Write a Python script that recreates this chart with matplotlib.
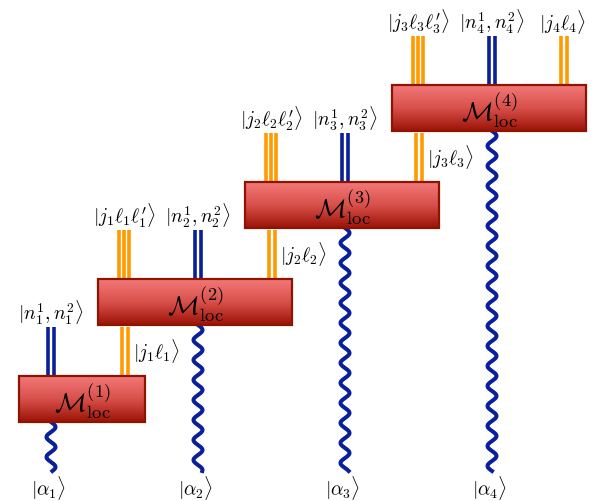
import numpy as np
import matplotlib
matplotlib.use('Agg')
import matplotlib.pyplot as plt
from matplotlib.colors import LinearSegmentedColormap
from matplotlib.patches import Rectangle

plt.rcParams['mathtext.fontset'] = 'cm'

##ラベル
box_labels = [r'$\mathcal{M}_{\rm loc}^{(1)}$', r'$\mathcal{M}_{\rm loc}^{(2)}$',
              r'$\mathcal{M}_{\rm loc}^{(3)}$', r'$\mathcal{M}_{\rm loc}^{(4)}$']
n_labels = [r'$|n_1^1, n_1^2\rangle$', r'$|n_2^1, n_2^2\rangle$',
            r'$|n_3^1, n_3^2\rangle$', r'$|n_4^1, n_4^2\rangle$']
jll_labels = [r"$|j_1\ell_1\ell^{\prime}_1\rangle$", r"$|j_2\ell_2\ell^{\prime}_2\rangle$",
              r"$|j_3\ell_3\ell^{\prime}_3\rangle$"]
jl_labels = [r'$|j_1\ell_1\rangle$', r'$|j_2\ell_2\rangle$', r'$|j_3\ell_3\rangle$']
last_label = r'$|j_4\ell_4\rangle$'
alpha_labels = [r'$|\alpha_1\rangle$', r'$|\alpha_2\rangle$',
                r'$|\alpha_3\rangle$', r'$|\alpha_4\rangle$']

#レイアウト（ピクセル座標）
step_x, step_y = 147, 97
box_h, wire_len = 46, 49
first_left = 19
blue = '#0a1f9a'
orange = '#ff9a00'
fs = 14
cmap = LinearSegmentedColormap.from_list('box', ['#f27878', '#d8504a', '#9c1406'])
grad = np.linspace(0, 1, 64).reshape(-1, 1)

fig = plt.figure(figsize=(6.02, 5.02), dpi=100)
ax = fig.add_axes([0, 0, 1, 1])


def wires(x, y0, y1, n, color):
    offs = (np.arange(n) - (n - 1) / 2) * 5.4
    for o in offs:
        ax.plot([x + o, x + o], [y0, y1], color=color, lw=2.6,
                solid_capstyle='butt', zorder=1)


def wavy(x, y0, y1):
    y = np.linspace(y0, y1, 400)
    ax.plot(x + 4.5 * np.sin(2 * np.pi * (y - y0) / 20), y, color=blue,
            lw=2.9, zorder=1)


for k in range(4):
    right = 145 + step_x * k
    left = max(right - 194, first_left)
    top = 377 - step_y * k
    bot = top + box_h
    xb = 51 + step_x * k
    xo = -23 + step_x * k

    #箱
    ax.imshow(grad, cmap=cmap, extent=(left, right, bot, top), origin='upper',
              aspect='auto', zorder=2)
    ax.add_patch(Rectangle((left, top), right - left, box_h, fill=False,
                           ec='#8c1400', lw=1.6, zorder=3))
    ax.text((left + right) / 2, (top + bot) / 2 + 1, box_labels[k],
            ha='center', va='center', fontsize=19, zorder=4)

    #上の青い線
    wires(xb, top - wire_len, top, 2, blue)
    ax.text(xb, top - wire_len - 15, n_labels[k], ha='center', va='center', fontsize=fs)

    #下の波線
    wavy(xb, bot, 472)
    ax.text(xb - 2, 488, alpha_labels[k], ha='center', va='center', fontsize=fs)

    if k > 0:
        wires(xo, top - wire_len, top, 3, orange)
        ax.text(xo, top - wire_len - 15, jll_labels[k - 1], ha='center',
                va='center', fontsize=fs)
        wires(xo + 1, top + step_y - wire_len, top + step_y, 2, orange)
        ax.text(xo + 9, top + step_y - wire_len / 2 - 1, jl_labels[k - 1],
                ha='left', va='center', fontsize=fs)

#最後の箱の右上
top4 = 377 - step_y * 3
wires(564, top4 - wire_len, top4, 2, orange)
ax.text(562, top4 - wire_len - 15, last_label, ha='center', va='center', fontsize=fs)

ax.set_xlim(0, 602)
ax.set_ylim(502, 0)
ax.axis('off')
fig.savefig('out.png', dpi=100)
